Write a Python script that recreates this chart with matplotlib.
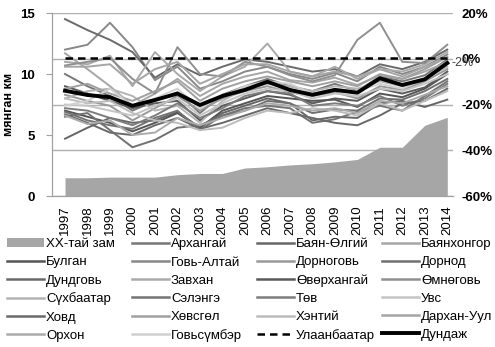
import matplotlib
matplotlib.use("Agg")
import matplotlib.pyplot as plt
from matplotlib.patches import Patch
from matplotlib.lines import Line2D

plt.rcParams["font.family"] = ["Liberation Sans", "DejaVu Sans"]

# ---------------- DATA ----------------

years = [str(y) for y in range(1997, 2015)]

paved_km = [1.5, 1.5, 1.55, 1.55, 1.55, 1.75, 1.85, 1.85, 2.3, 2.4,
            2.55, 2.65, 2.8, 3.0, 4.0, 4.0, 5.8, 6.45]

provinces = ["Архангай", "Баян-Өлгий", "Баянхонгор", "Булган", "Говь-Алтай",
             "Дорноговь", "Дорнод", "Дундговь", "Завхан", "Өвөрхангай",
             "Өмнөговь", "Сүхбаатар", "Сэлэнгэ", "Төв", "Увс", "Ховд",
             "Хөвсгөл", "Хэнтий", "Дархан-Уул", "Орхон", "Говьсүмбэр"]

province_km = [
    [10.0, 9.0, 8.2, 7.0, 7.8, 8.5, 6.8, 8.3, 9.0, 9.6, 9.0, 8.6, 9.2, 8.6, 9.8, 9.4, 9.9, 11.2],
    [4.7, 5.6, 6.4, 6.0, 6.2, 6.9, 5.6, 6.8, 7.4, 8.0, 7.6, 6.2, 6.5, 6.4, 7.6, 7.8, 7.3, 7.9],
    [11.7, 10.4, 9.0, 7.4, 8.4, 9.6, 8.2, 9.2, 9.8, 10.2, 9.5, 9.3, 9.7, 9.1, 9.9, 9.6, 10.2, 11.0],
    [7.0, 6.5, 6.0, 5.3, 6.0, 6.8, 5.6, 7.0, 7.6, 8.2, 8.0, 7.8, 7.9, 7.3, 8.4, 8.1, 8.8, 10.0],
    [12.0, 12.4, 14.2, 12.2, 9.5, 10.6, 8.8, 9.4, 10.2, 10.6, 10.0, 9.6, 10.1, 9.4, 10.6, 10.0, 10.6, 11.6],
    [8.3, 7.8, 7.4, 6.2, 7.2, 8.2, 7.0, 8.0, 8.6, 9.0, 8.5, 8.2, 8.5, 8.0, 9.0, 8.7, 9.4, 10.4],
    [6.5, 6.8, 5.4, 4.0, 4.6, 5.6, 5.8, 6.6, 7.0, 7.8, 7.6, 6.8, 7.1, 7.0, 8.0, 7.9, 8.6, 9.6],
    [14.5, 13.6, 12.8, 11.8, 9.7, 10.8, 9.9, 10.6, 11.2, 11.0, 10.6, 10.2, 10.4, 9.8, 10.8, 10.4, 11.0, 12.0],
    [11.0, 10.8, 11.5, 9.0, 11.8, 10.0, 8.6, 9.8, 10.6, 12.5, 10.2, 9.8, 10.6, 9.6, 10.4, 10.2, 10.8, 11.8],
    [9.0, 8.4, 7.8, 7.2, 7.6, 7.8, 6.2, 7.4, 8.0, 8.6, 8.3, 7.6, 8.0, 7.8, 8.8, 8.4, 8.9, 10.2],
    [10.7, 11.0, 11.3, 9.6, 8.4, 12.2, 10.0, 9.8, 11.0, 10.6, 9.9, 9.4, 9.9, 12.8, 14.2, 11.0, 10.9, 12.4],
    [8.0, 8.6, 8.8, 8.2, 7.0, 7.4, 6.0, 7.8, 8.8, 9.2, 9.0, 8.6, 9.0, 8.8, 9.4, 9.0, 9.6, 10.6],
    [6.9, 6.2, 5.8, 5.5, 6.4, 7.0, 5.4, 6.6, 7.2, 7.4, 7.2, 6.0, 6.3, 6.9, 7.4, 7.0, 8.2, 9.4],
    [7.2, 7.0, 6.4, 5.8, 6.6, 7.6, 6.4, 7.2, 8.2, 8.6, 8.4, 7.4, 7.6, 7.4, 8.2, 7.4, 8.0, 9.2],
    [7.5, 7.4, 7.0, 6.6, 7.4, 8.0, 6.6, 7.6, 8.4, 8.8, 8.6, 8.0, 8.4, 8.2, 8.8, 8.6, 9.2, 10.0],
    [6.7, 6.0, 5.2, 5.0, 5.8, 6.4, 5.5, 6.0, 6.6, 7.2, 6.8, 6.4, 6.0, 5.8, 6.6, 7.6, 7.8, 8.8],
    [8.8, 9.2, 8.4, 7.8, 8.6, 9.4, 7.8, 8.8, 9.4, 9.8, 9.4, 9.0, 9.4, 9.0, 10.0, 9.6, 10.4, 11.4],
    [8.0, 7.6, 7.8, 6.8, 6.2, 6.0, 5.4, 5.6, 6.4, 7.0, 6.8, 7.2, 7.0, 6.6, 7.6, 7.0, 7.8, 8.6],
    [10.6, 10.6, 10.8, 9.2, 10.4, 11.0, 9.2, 10.0, 10.8, 10.8, 10.2, 9.8, 10.2, 9.8, 10.4, 9.8, 10.6, 11.4],
    [6.6, 5.9, 6.2, 5.0, 5.2, 6.4, 5.8, 6.4, 7.0, 7.6, 7.4, 7.0, 7.2, 6.8, 7.8, 7.6, 8.3, 9.0],
    [7.4, 7.8, 8.8, 7.4, 8.0, 8.8, 7.2, 8.2, 9.0, 9.4, 9.2, 8.4, 8.8, 8.6, 9.2, 8.8, 9.6, 10.8],
]

province_colors = ["#777777", "#666666", "#a6a6a6", "#555555", "#888888",
                   "#999999", "#707070", "#6a6a6a", "#aaaaaa", "#5a5a5a",
                   "#8f8f8f", "#b4b4b4", "#737373", "#7d7d7d", "#c4c4c4",
                   "#696969", "#a0a0a0", "#bcbcbc", "#a5a5a5", "#ababab",
                   "#d0d0d0"]

ulaanbaatar_km = [11.3] * 18
average_km = [8.63, 8.28, 8.1, 7.4, 7.87, 8.4, 7.46, 8.2, 8.7, 9.37,
              8.7, 8.3, 8.7, 8.47, 9.65, 9.1, 9.57, 10.9]
average_label = "-2%"

# ---------------- PLOT ----------------

fig = plt.figure(figsize=(4.95, 3.47), dpi=100)
ax = fig.add_axes([0.105, 0.435, 0.81, 0.5275])
ax2 = ax.twinx()

# percent axis sits behind and carries the grid
ax.set_zorder(ax2.get_zorder() + 1)
ax.patch.set_visible(False)

x = list(range(len(years)))

ax.fill_between(x, 0, paved_km, color="#a6a6a6", linewidth=0, zorder=1)

for vals, col in zip(province_km, province_colors):
    ax.plot(x, vals, color=col, lw=1.4, zorder=2)

ax.plot(x, ulaanbaatar_km, color="black", lw=1.8, ls=(0, (3, 2)), zorder=3)
ax.plot(x, average_km, color="black", lw=2.8, zorder=4)
ax.text(17.2, average_km[-1], average_label, ha="left", va="center",
        fontsize=9, color="#404040", clip_on=False, zorder=5)

ax.set_xlim(-0.58, 17.25)
ax.set_ylim(0, 15)
ax.set_yticks([0, 5, 10, 15])
ax.set_xticks(x)
ax.set_xticklabels(years, rotation=90, fontsize=9.5)
ax.tick_params(axis="x", length=0, pad=7)
ax.tick_params(axis="y", length=4, color="#a0a0a0", labelsize=9.5, pad=8)
for lab in ax.get_yticklabels():
    lab.set_fontweight("bold")
ax.set_ylabel("мянган км", fontsize=9, fontweight="bold", labelpad=4)

ax2.set_ylim(-60, 20)
ax2.set_yticks([-60, -40, -20, 0, 20])
ax2.set_yticklabels(["-60%", "-40%", "-20%", "0%", "20%"], fontsize=9.5,
                    fontweight="bold")
ax2.tick_params(axis="y", length=0, pad=6)
ax2.grid(axis="y", color="#b0b0b0", lw=1)

for a in (ax, ax2):
    for side in ("top", "right"):
        a.spines[side].set_visible(False)
    a.spines["left"].set_color("#a0a0a0")
    a.spines["bottom"].set_color("#a0a0a0")

# ---------------- LEGEND ----------------

handles = [Patch(facecolor="#a6a6a6", edgecolor="none")]
labels = ["ХХ-тай зам"]
for name, col in zip(provinces, province_colors):
    handles.append(Line2D([], [], color=col, lw=1.8))
    labels.append(name)
handles.append(Line2D([], [], color="black", lw=1.8, ls=(0, (3, 2))))
labels.append("Улаанбаатар")
handles.append(Line2D([], [], color="black", lw=2.8))
labels.append("Дундаж")

col_x = [7, 132, 257, 382]
for c in range(4):
    leg = fig.legend(handles[c::4], labels[c::4], loc="upper left",
                     bbox_to_anchor=(col_x[c] / 495, 1 - 238 / 347),
                     frameon=False, fontsize=9.5, handlelength=2.8,
                     handletextpad=0.15, labelspacing=0.45, borderpad=0,
                     borderaxespad=0, handleheight=0.7)

fig.savefig("out.png", dpi=100)
